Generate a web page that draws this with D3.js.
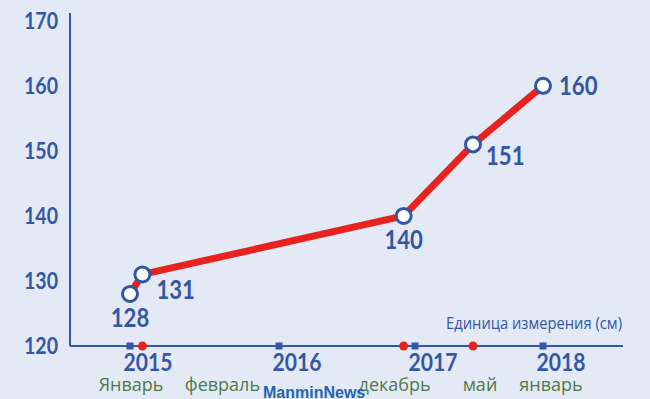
<!DOCTYPE html>
<html>
<head>
<meta charset="utf-8">
<script src="https://cdn.jsdelivr.net/npm/d3@7"></script>
<style>
  body { margin: 0; background: #e3eaf6; }
  svg { display: block; }
</style>
</head>
<body>
<div id="chart"></div>
<script>
// data
var dates = ["2015-01", "2015-02", "2016-12", "2017-05", "2018-01"];
var heights = [128, 131, 140, 151, 160];
var yTicks = [120, 130, 140, 150, 160, 170];
var years = [2015, 2016, 2017, 2018];
var monthLabels = ["Январь", "февраль", "декабрь", "май", "январь"];
var unitLabel = "Единица измерения (см)";
var credit = "ManminNews";

var width = 650, height = 399;
var blue = "#3457a4", red = "#e8231f", green = "#4d7a4b";

// months since Jan 2015
function monthIndex(s) {
  var p = s.split("-");
  return (+p[0] - 2015) * 12 + (+p[1] - 1);
}
var points = dates.map(function(d, i) {
  return { m: monthIndex(d), v: heights[i], month: +d.split("-")[1] };
});

var svg = d3.select("#chart").append("svg")
    .attr("width", width)
    .attr("height", height);

var plotLeft = 70, plotRight = 623, plotBottom = 346, plotTop = 13;

// the source axis is not evenly spaced, so the scale is piecewise
var x = d3.scaleLinear()
    .domain([0, 12, 24, 28, 36])
    .range([130, 279, 415, 473, 543]);

var y = d3.scaleLinear()
    .domain([120, 171.2])
    .range([plotBottom, plotTop]);

function squeeze(k) {
  return function() {
    var w = this.getComputedTextLength();
    d3.select(this).attr("textLength", w * k).attr("lengthAdjust", "spacingAndGlyphs");
  };
}

// axes lines
svg.append("line")
    .attr("x1", plotLeft).attr("x2", plotLeft)
    .attr("y1", plotTop).attr("y2", plotBottom)
    .attr("stroke", blue).attr("stroke-width", 2);
svg.append("line")
    .attr("x1", plotLeft).attr("x2", plotRight)
    .attr("y1", plotBottom).attr("y2", plotBottom)
    .attr("stroke", blue).attr("stroke-width", 2);

// y labels
var yAxis = svg.append("g")
    .attr("transform", "translate(" + (plotLeft - 12) + ",0)")
    .call(d3.axisLeft(y).tickValues(yTicks).tickSize(0).tickPadding(0));
yAxis.select(".domain").remove();
yAxis.selectAll("text")
    .attr("fill", blue)
    .style("font-family", "Lato, sans-serif")
    .style("font-weight", "bold")
    .style("font-size", "23px")
    .each(squeeze(0.85));

// year markers on the x axis
svg.selectAll("rect.year")
    .data(years)
    .enter().append("rect")
    .attr("class", "year")
    .attr("x", function(d) { return x((d - 2015) * 12) - 3.5; })
    .attr("y", plotBottom - 3.5)
    .attr("width", 7).attr("height", 7)
    .attr("fill", blue);

svg.selectAll("text.year")
    .data(years)
    .enter().append("text")
    .attr("class", "year")
    .attr("x", function(d) { return x((d - 2015) * 12) + 18; })
    .attr("y", 371)
    .attr("text-anchor", "middle")
    .attr("fill", blue)
    .style("font-family", "Lato, sans-serif")
    .style("font-weight", "bold")
    .style("font-size", "24px")
    .text(function(d) { return d; })
    .each(squeeze(0.88));

// red month markers (non-January points)
svg.selectAll("circle.month")
    .data(points.filter(function(d) { return d.month !== 1; }))
    .enter().append("circle")
    .attr("class", "month")
    .attr("cx", function(d) { return x(d.m); })
    .attr("cy", plotBottom)
    .attr("r", 4.5)
    .attr("fill", red);

// month names under the axis
var monthDx = [1, 80, -9, 7, 8];
svg.selectAll("text.month")
    .data(points)
    .enter().append("text")
    .attr("class", "month")
    .attr("x", function(d, i) { return x(d.m) + monthDx[i]; })
    .attr("y", 391)
    .attr("text-anchor", "middle")
    .attr("fill", green)
    .style("font-family", "'Open Sans', sans-serif")
    .style("font-size", "18px")
    .text(function(d, i) { return monthLabels[i]; });

svg.append("text")
    .attr("x", plotRight - 1)
    .attr("y", 329)
    .attr("text-anchor", "end")
    .attr("fill", blue)
    .style("font-family", "'Open Sans', sans-serif")
    .style("font-size", "16px")
    .text(unitLabel)
    .each(squeeze(0.92));

// line
var line = d3.line()
    .x(function(d) { return x(d.m); })
    .y(function(d) { return y(d.v); });

svg.append("path")
    .datum(points)
    .attr("d", line)
    .attr("fill", "none")
    .attr("stroke", red)
    .attr("stroke-width", 7)
    .attr("stroke-linejoin", "round");

svg.selectAll("circle.pt")
    .data(points)
    .enter().append("circle")
    .attr("class", "pt")
    .attr("cx", function(d) { return x(d.m); })
    .attr("cy", function(d) { return y(d.v); })
    .attr("r", 7.5)
    .attr("fill", "#fff")
    .attr("stroke", blue)
    .attr("stroke-width", 3);

// value labels
var labelPos = [
  { dx: 0, dy: 33, anchor: "middle" },
  { dx: 14, dy: 25, anchor: "start" },
  { dx: 0, dy: 33, anchor: "middle" },
  { dx: 13, dy: 21, anchor: "start" },
  { dx: 16, dy: 9, anchor: "start" }
];
svg.selectAll("text.val")
    .data(points)
    .enter().append("text")
    .attr("class", "val")
    .attr("x", function(d, i) { return x(d.m) + labelPos[i].dx; })
    .attr("y", function(d, i) { return y(d.v) + labelPos[i].dy; })
    .attr("text-anchor", function(d, i) { return labelPos[i].anchor; })
    .attr("fill", blue)
    .style("font-family", "Lato, sans-serif")
    .style("font-weight", "bold")
    .style("font-size", "26px")
    .text(function(d) { return d.v; })
    .each(squeeze(0.85));

svg.append("text")
    .attr("x", 263)
    .attr("y", 398)
    .attr("fill", "#2266b0")
    .style("font-family", "'Liberation Sans', Arial, sans-serif")
    .style("font-weight", "bold")
    .style("font-size", "16px")
    .text(credit);
</script>
</body>
</html>
